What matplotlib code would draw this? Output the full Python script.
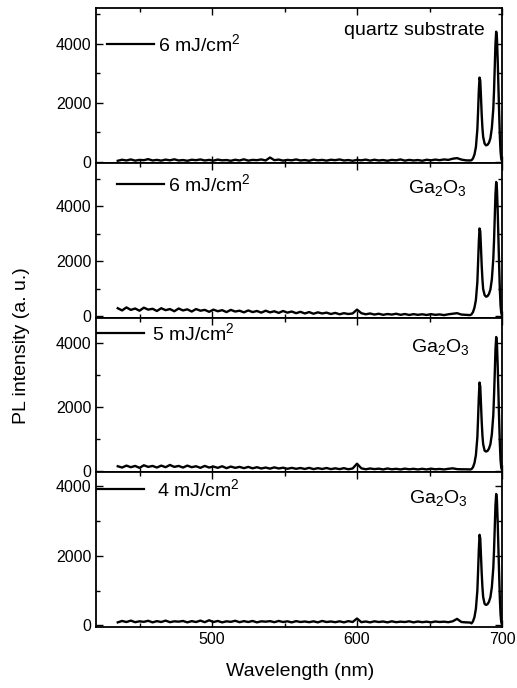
import numpy as np
import matplotlib
matplotlib.use("Agg")
import matplotlib.pyplot as plt
from matplotlib.ticker import MultipleLocator

plt.rcParams["font.family"] = ["Liberation Sans", "DejaVu Sans"]
plt.rcParams["mathtext.fontset"] = "custom"
plt.rcParams["mathtext.rm"] = "Liberation Sans"
plt.rcParams["mathtext.it"] = "Liberation Sans:italic"

# baseline region, one reading every 3 nm from 435 to 678 nm
base_wl = np.arange(435, 679, 3)
# emission lines region
peak_wl = [679, 680, 681, 682, 683, 683.5, 684, 684.5, 685, 685.5, 686, 686.5,
           687, 688, 689, 690, 691, 692, 693, 694, 694.5, 695, 695.5, 696,
           696.5, 697, 697.5, 698, 698.5, 699, 699.5, 700]

quartz_base = [40, 75, 50, 85, 45, 70, 60, 95, 50, 70,
               45, 80, 55, 90, 50, 65, 40, 75, 60, 85,
               50, 70, 45, 80, 55, 65, 40, 75, 50, 90,
               45, 70, 60, 85, 50, 150, 60, 80, 45, 70,
               55, 85, 50, 65, 40, 80, 55, 70, 45, 75,
               60, 85, 50, 65, 40, 70, 55, 80, 45, 75,
               50, 65, 40, 70, 55, 85, 45, 70, 50, 65,
               40, 75, 55, 80, 60, 85, 70, 110, 130, 80,
               55, 50]
quartz_peak = [60, 120, 250, 500, 1100, 1700, 2400, 2850, 2750, 2200, 1600, 1150,
               850, 620, 560, 580, 650, 800, 1150, 1800, 2400, 3200, 4000, 4400,
               4200, 3500, 2600, 1700, 900, 350, 100, 30]

ga6_base = [300, 220, 330, 240, 290, 210, 320, 250, 280, 200,
            300, 230, 270, 190, 290, 220, 260, 180, 270, 210,
            240, 170, 250, 190, 230, 160, 240, 180, 210, 150,
            220, 160, 200, 140, 210, 150, 190, 130, 200, 140,
            180, 120, 170, 110, 160, 100, 150, 110, 140, 90,
            130, 80, 120, 90, 110, 250, 120, 80, 110, 70,
            100, 60, 90, 70, 100, 60, 90, 55, 85, 60,
            80, 55, 85, 60, 75, 50, 80, 100, 120, 70,
            60, 50]
ga6_peak = [80, 160, 320, 600, 1250, 1950, 2700, 3200, 3100, 2500, 1850, 1350,
            1000, 780, 720, 740, 820, 980, 1350, 2100, 2750, 3600, 4450, 4890,
            4650, 3900, 2900, 1900, 1000, 400, 120, 40]

ga5_base = [150, 110, 170, 120, 160, 100, 180, 130, 160, 110,
            170, 120, 190, 130, 160, 110, 170, 120, 150, 100,
            160, 110, 140, 100, 150, 90, 140, 100, 130, 90,
            130, 85, 120, 80, 110, 75, 115, 80, 105, 70,
            100, 70, 95, 65, 100, 60, 90, 65, 95, 60,
            85, 60, 90, 55, 80, 230, 85, 55, 80, 60,
            75, 50, 80, 55, 70, 50, 75, 55, 70, 50,
            70, 50, 75, 55, 65, 50, 70, 85, 60, 55,
            55, 50]
ga5_peak = [60, 120, 250, 500, 1050, 1650, 2300, 2770, 2650, 2100, 1550, 1120,
            840, 640, 610, 630, 700, 840, 1150, 1750, 2350, 3050, 3800, 4195,
            4000, 3350, 2500, 1650, 880, 340, 100, 30]

ga4_base = [90, 130, 100, 140, 95, 120, 105, 135, 90, 125,
            100, 140, 95, 120, 110, 130, 90, 125, 100, 140,
            95, 150, 100, 130, 90, 120, 105, 135, 95, 125,
            100, 130, 90, 120, 110, 125, 95, 130, 100, 120,
            90, 125, 100, 115, 95, 120, 90, 130, 100, 115,
            95, 120, 90, 125, 100, 200, 95, 115, 90, 120,
            100, 115, 90, 120, 95, 110, 100, 120, 90, 115,
            95, 110, 90, 115, 100, 110, 95, 120, 190, 100,
            90, 85]
ga4_peak = [60, 120, 240, 480, 1000, 1550, 2150, 2600, 2500, 2000, 1500, 1100,
            820, 620, 590, 610, 680, 810, 1100, 1650, 2150, 2800, 3450, 3770,
            3600, 3000, 2250, 1500, 800, 320, 90, 30]

fluences = ["6 mJ/cm$^2$", "6 mJ/cm$^2$", "5 mJ/cm$^2$", "4 mJ/cm$^2$"]
samples = ["quartz substrate", "Ga$_2$O$_3$", "Ga$_2$O$_3$", "Ga$_2$O$_3$"]

panels = [
    # (base, peak, ylim, bottom px, top px, legend anchor, textpad, sample pos)
    (quartz_base, quartz_peak, (-35, 5200), 163, 8, (0.027, 0.768), 0.2, (0.785, 0.852)),
    (ga6_base, ga6_peak, (-55, 5580), 318, 163, (0.052, 0.865), 0.2, (0.84, 0.84)),
    (ga5_base, ga5_peak, (-30, 4790), 472, 318, (0.003, 0.903), 0.4, (0.847, 0.81)),
    (ga4_base, ga4_peak, (-43, 4400), 627, 472, (0.003, 0.89), 0.65, (0.842, 0.832)),
]

W, H = 517, 688
fig = plt.figure(figsize=(W / 100, H / 100), dpi=100)
left, right = 96, 502

for i, (base, peak, ylim, bot, top, anchor, pad, spos) in enumerate(panels):
    ax = fig.add_axes([left / W, 1 - bot / H, (right - left) / W, (bot - top) / H])
    wl = np.concatenate([base_wl, peak_wl])
    inten = np.concatenate([base, peak])
    ax.plot(wl, inten, color="black", lw=1.7, label=fluences[i])
    ax.set_xlim(420, 700)
    ax.set_ylim(*ylim)
    ax.xaxis.set_major_locator(MultipleLocator(100))
    ax.xaxis.set_minor_locator(MultipleLocator(50))
    ax.yaxis.set_major_locator(MultipleLocator(2000))
    ax.yaxis.set_minor_locator(MultipleLocator(1000))
    ax.tick_params(which="both", direction="in", top=True, right=True, width=1.0,
                   labelsize=11.5)
    ax.tick_params(which="major", length=5)
    ax.tick_params(which="minor", length=3)
    for s in ax.spines.values():
        s.set_linewidth(1.3)
    if i < 3:
        ax.tick_params(labelbottom=False)
    leg = ax.legend(loc="center left", bbox_to_anchor=anchor, frameon=False,
                    fontsize=14, handlelength=2.4, handletextpad=pad,
                    borderpad=0, borderaxespad=0)
    leg.get_lines()[0].set_linewidth(1.6)
    ax.text(spos[0], spos[1], samples[i], transform=ax.transAxes, fontsize=14,
            ha="center", va="center")

fig.text(300 / W, 1 - 672 / H, "Wavelength (nm)", fontsize=14, ha="center", va="center")
fig.text(22 / W, 1 - 346 / H, "PL intensity (a. u.)", fontsize=14, ha="center",
         va="center", rotation=90)

fig.savefig("out.png", dpi=100)
